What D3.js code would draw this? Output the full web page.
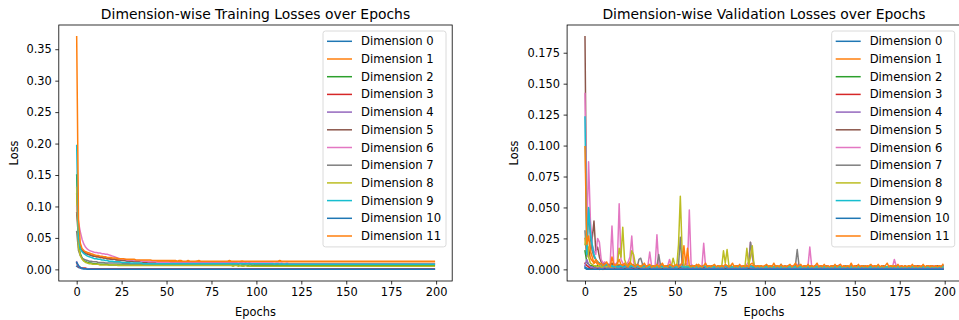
<!DOCTYPE html>
<html>
<head>
<meta charset="utf-8">
<script src="https://d3js.org/d3.v7.min.js"></script>
<style>
  body { margin: 0; background: #fff; }
  svg { display: block; font-family: "DejaVu Sans", sans-serif; }
</style>
</head>
<body>
<svg id="chart" width="959" height="320"></svg>
<script>
// loss values are written in thousandths (1 = 0.001)
const UNIT = 0.001;

const epochs = d3.range(0, 200);
const seriesNames = d3.range(12).map(i => `Dimension ${i}`);
const xTicks = [0, 25, 50, 75, 100, 125, 150, 175, 200];
const trainYTicks = [0, 0.05, 0.10, 0.15, 0.20, 0.25, 0.30, 0.35];
const valYTicks = [0, 0.025, 0.05, 0.075, 0.10, 0.125, 0.15, 0.175];

// ---- training losses ----
const trainDim0 = [
5,3,2,1,1,1,1,0,0,0,0,0,0,0,0,0,0,0,0,0,
0,0,0,0,0,0,0,0,0,0,0,0,0,0,0,0,0,0,0,0,
0,0,0,0,0,0,0,0,0,0,0,0,0,0,0,0,0,0,0,0,
0,0,0,0,0,0,0,0,0,0,0,0,0,0,0,0,0,0,0,0,
0,0,0,0,0,0,0,0,0,0,0,0,0,0,0,0,0,0,0,0,
0,0,0,0,0,0,0,0,0,0,0,0,0,0,0,0,0,0,0,0,
0,0,0,0,0,0,0,0,0,0,0,0,0,0,0,0,0,0,0,0,
0,0,0,0,0,0,0,0,0,0,0,0,0,0,0,0,0,0,0,0,
0,0,0,0,0,0,0,0,0,0,0,0,0,0,0,0,0,0,0,0,
0,0,0,0,0,0,0,0,0,0,0,0,0,0,0,0,0,0,0,0];
const trainDim1 = [
120,45,34,30,28,27,25,24,23,22,21,20,20,19,19,18,18,17,17,17,
16,16,16,15,15,15,15,14,14,14,14,14,14,13,13,13,13,13,13,13,
13,13,13,13,12,13,13,12,12,13,12,12,12,12,12,13,12,12,12,12,
12,12,12,12,12,12,12,13,12,12,12,12,12,12,12,12,12,12,12,12,
12,12,12,12,12,12,12,12,12,12,12,12,13,12,12,12,12,12,12,12,
12,12,12,12,12,12,12,12,12,12,12,12,12,12,12,12,12,12,12,12,
12,12,12,12,12,12,12,12,12,12,12,12,12,12,12,12,12,12,12,12,
12,12,12,12,12,12,12,12,12,12,12,12,12,12,12,12,12,12,12,12,
12,12,12,12,12,12,12,12,12,12,12,12,12,12,12,12,12,12,12,12,
12,12,12,12,12,12,12,12,12,12,12,12,12,12,12,12,12,12,12,12];
const trainDim2 = [
150,40,25,18,14,12,11,10,10,9,9,9,8,8,8,8,8,8,7,7,
7,7,7,7,7,7,7,7,7,7,7,7,7,7,7,7,7,7,7,7,
7,7,7,7,7,7,7,7,7,7,7,7,7,7,7,7,7,7,7,7,
7,7,7,7,7,7,7,7,7,7,7,7,7,7,7,7,7,7,7,7,
7,7,7,7,7,7,7,7,7,7,7,6,7,7,7,6,7,7,6,7,
6,6,6,6,6,6,6,6,6,6,6,6,6,6,6,6,6,6,6,6,
6,6,6,6,6,6,6,6,6,6,6,6,6,6,6,6,6,6,6,6,
6,6,6,6,6,6,6,6,6,6,6,6,6,6,6,6,6,6,6,6,
6,6,6,6,6,6,6,6,6,6,6,6,6,6,6,6,6,6,6,6,
6,6,6,6,6,6,6,6,6,6,6,6,6,6,6,6,6,6,6,6];
const trainDim3 = [
10,4,3,2,2,2,1,1,1,1,1,1,1,1,1,1,1,1,1,1,
1,1,1,1,1,1,1,1,1,1,1,1,1,1,1,1,1,1,1,1,
1,1,1,1,1,1,1,1,1,1,1,1,1,1,1,1,1,1,1,1,
1,1,1,1,1,1,1,1,1,1,1,1,1,1,1,1,1,1,1,1,
1,1,1,1,1,1,1,1,1,1,1,1,1,1,1,1,1,1,1,1,
1,1,1,1,1,1,1,1,1,1,1,1,1,1,1,1,1,1,1,1,
1,1,1,1,1,1,1,1,1,1,1,1,1,1,1,1,1,1,1,1,
1,1,1,1,1,1,1,1,1,1,1,1,1,1,1,1,1,1,1,1,
1,1,1,1,1,1,1,1,1,1,1,1,1,1,1,1,1,1,1,1,
1,1,1,1,1,1,1,1,1,1,1,1,1,1,1,1,1,1,1,1];
const trainDim4 = [
12,5,3,2,1,1,1,1,0,0,0,0,0,0,0,0,0,0,0,0,
0,0,0,0,0,0,0,0,0,0,0,0,0,0,0,0,0,0,0,0,
0,0,0,0,0,0,0,0,0,0,0,0,0,0,0,0,0,0,0,0,
0,0,0,0,0,0,0,0,0,0,0,0,0,0,0,0,0,0,0,0,
0,0,0,0,0,0,0,0,0,0,0,0,0,0,0,0,0,0,0,0,
0,0,0,0,0,0,0,0,0,0,0,0,0,0,0,0,0,0,0,0,
0,0,0,0,0,0,0,0,0,0,0,0,0,0,0,0,0,0,0,0,
0,0,0,0,0,0,0,0,0,0,0,0,0,0,0,0,0,0,0,0,
0,0,0,0,0,0,0,0,0,0,0,0,0,0,0,0,0,0,0,0,
0,0,0,0,0,0,0,0,0,0,0,0,0,0,0,0,0,0,0,0];
const trainDim5 = [
90,50,35,30,27,25,24,23,22,21,21,20,20,19,19,18,18,17,17,16,
16,16,15,15,15,14,14,14,13,13,13,13,12,12,12,12,12,11,11,11,
11,11,11,11,11,10,10,10,10,10,10,10,10,10,10,10,10,10,10,10,
10,10,10,10,10,10,10,10,10,10,10,10,10,10,10,10,10,10,10,10,
10,10,10,10,10,10,10,10,10,10,9,10,10,9,10,9,10,9,9,9,
9,9,9,9,9,9,9,9,9,9,9,9,9,9,9,9,9,9,9,9,
9,9,9,9,9,9,9,9,9,9,9,9,9,9,9,9,9,9,9,9,
9,9,9,9,9,9,9,9,9,9,9,9,9,9,9,9,9,9,9,9,
9,9,9,9,9,9,9,9,9,9,9,9,9,9,9,9,9,9,9,9,
9,9,9,9,9,9,9,9,9,9,9,9,9,9,9,9,9,9,9,9];
const trainDim6 = [
100,75,60,48,40,35,32,30,29,28,27,27,26,26,25,25,24,24,23,22,
21,20,19,18,17,17,16,16,15,15,15,15,14,14,14,14,13,13,13,13,
12,12,12,12,12,11,11,11,11,11,11,11,10,10,10,10,10,10,10,10,
10,10,10,10,10,10,10,10,10,10,10,10,10,10,10,10,10,10,10,10,
10,10,10,10,10,10,10,10,10,10,10,10,10,10,10,10,10,10,10,10,
10,10,10,10,10,10,10,10,10,10,9,10,10,9,10,9,9,10,9,9,
9,9,9,9,9,9,9,9,9,9,9,9,9,9,9,9,9,9,9,9,
9,9,9,9,9,9,9,9,9,9,9,9,9,9,9,9,9,9,9,9,
9,9,9,9,9,9,9,9,9,9,9,9,9,9,9,9,9,9,9,9,
9,9,9,9,9,9,9,9,9,9,9,9,9,9,9,9,9,9,9,9];
const trainDim7 = [
60,30,22,18,16,15,14,13,13,12,12,12,11,11,11,11,10,10,10,10,
10,10,10,10,10,10,9,9,9,9,9,9,9,9,9,9,9,9,9,9,
9,9,9,9,9,9,9,9,9,9,9,9,9,9,9,9,9,9,9,9,
9,9,9,9,9,9,9,9,9,9,9,9,9,9,9,9,9,9,9,9,
9,9,9,9,9,9,9,9,9,9,9,9,9,9,9,9,9,9,9,9,
8,8,8,8,8,8,8,8,8,8,8,8,8,8,8,8,8,8,8,8,
8,8,8,8,8,8,8,8,8,8,8,8,8,8,8,8,8,8,8,8,
8,8,8,8,8,8,8,8,8,8,8,8,8,8,8,8,8,8,8,8,
8,8,8,8,8,8,8,8,8,8,8,8,8,8,8,8,8,8,8,8,
8,8,8,8,8,8,8,8,8,8,8,8,8,8,8,8,8,8,8,8];
const trainDim8 = [
130,35,22,16,13,11,10,9,9,8,8,8,8,7,7,7,7,7,7,7,
7,7,7,6,6,6,6,6,6,6,6,6,6,6,6,6,6,6,6,6,
6,6,6,6,6,6,6,6,6,6,6,6,6,6,6,6,6,6,6,6,
6,6,6,6,6,6,6,6,6,6,6,6,6,6,6,6,6,6,6,6,
6,6,6,6,6,6,6,5,6,6,5,6,5,5,6,5,5,5,5,5,
5,5,5,5,5,5,5,5,5,5,5,5,5,5,5,5,5,5,5,5,
5,5,5,5,5,5,5,5,5,5,5,5,5,5,5,5,5,5,5,5,
5,5,5,5,5,5,5,5,5,5,5,5,5,5,5,5,5,5,5,5,
5,5,5,5,5,5,5,5,5,5,5,5,5,5,5,5,5,5,5,5,
5,5,5,5,5,5,5,5,5,5,5,5,5,5,5,5,5,5,5,5];
const trainDim9 = [
197,50,33,28,25,23,21,20,19,18,17,17,16,16,15,15,14,14,13,13,
13,12,12,12,12,11,11,11,11,11,10,10,10,10,10,10,10,9,9,9,
9,9,9,9,9,9,9,9,9,9,9,9,9,9,9,9,9,9,9,9,
9,9,9,9,9,9,9,9,9,9,9,9,9,9,9,9,9,9,9,9,
9,9,9,9,9,9,9,9,9,9,9,9,9,9,9,9,9,9,9,9,
9,9,9,9,9,9,9,9,9,9,8,9,9,8,9,8,8,9,8,8,
8,8,8,8,8,8,8,8,8,8,8,8,8,8,8,8,8,8,8,8,
8,8,8,8,8,8,8,8,8,8,8,8,8,8,8,8,8,8,8,8,
8,8,8,8,8,8,8,8,8,8,8,8,8,8,8,8,8,8,8,8,
8,8,8,8,8,8,8,8,8,8,8,8,8,8,8,8,8,8,8,8];
const trainDim10 = [
11,6,3,2,1,1,0,0,0,0,0,0,0,0,0,0,0,0,0,0,
0,0,0,0,0,0,0,0,0,0,0,0,0,0,0,0,0,0,0,0,
0,0,0,0,0,0,0,0,0,0,0,0,0,0,0,0,0,0,0,0,
0,0,0,0,0,0,0,0,0,0,0,0,0,0,0,0,0,0,0,0,
0,0,0,0,0,0,0,0,0,0,0,0,0,0,0,0,0,0,0,0,
0,0,0,0,0,0,0,0,0,0,0,0,0,0,0,0,0,0,0,0,
0,0,0,0,0,0,0,0,0,0,0,0,0,0,0,0,0,0,0,0,
0,0,0,0,0,0,0,0,0,0,0,0,0,0,0,0,0,0,0,0,
0,0,0,0,0,0,0,0,0,0,0,0,0,0,0,0,0,0,0,0,
0,0,0,0,0,0,0,0,0,0,0,0,0,0,0,0,0,0,0,0];
const trainDim11 = [
370,80,42,33,30,28,27,26,25,24,23,22,22,21,21,20,20,19,19,19,
18,18,18,17,17,17,17,16,16,16,16,16,16,15,15,15,15,15,15,15,
15,15,14,14,14,14,14,14,14,14,14,14,14,14,14,14,13,14,14,13,
13,13,14,13,13,13,13,13,14,13,13,13,13,13,13,13,13,13,13,13,
13,13,13,13,13,14,13,13,13,13,13,13,13,13,13,13,13,13,13,13,
13,13,13,13,13,13,13,13,13,13,13,13,13,14,13,13,13,13,13,13,
13,13,13,13,13,13,13,13,13,13,13,13,13,13,13,13,13,13,13,13,
13,13,13,13,13,13,13,13,13,13,13,13,13,13,13,13,13,13,13,13,
13,13,13,13,13,13,13,13,13,13,13,13,13,13,13,13,13,13,13,13,
13,13,13,13,13,13,13,13,13,13,13,13,13,13,13,13,13,13,13,13];

// ---- validation losses ----
const valDim0 = [
2,1,1,0,0,0,0,0,0,0,0,0,0,0,0,0,0,0,0,0,
0,0,0,0,0,0,0,0,0,0,0,0,0,0,0,0,0,0,0,0,
0,0,0,0,0,0,0,0,0,0,0,0,0,0,0,0,0,0,0,0,
0,0,0,0,0,0,0,0,0,0,0,0,0,0,0,0,0,0,0,0,
0,0,0,0,0,0,0,0,0,0,0,0,0,0,0,0,0,0,0,0,
0,0,0,0,0,0,0,0,0,0,0,0,0,0,0,0,0,0,0,0,
0,0,0,0,0,0,0,0,0,0,0,0,0,0,0,0,0,0,0,0,
0,0,0,0,0,0,0,0,0,0,0,0,0,0,0,0,0,0,0,0,
0,0,0,0,0,0,0,0,0,0,0,0,0,0,0,0,0,0,0,0,
0,0,0,0,0,0,0,0,0,0,0,0,0,0,0,0,0,0,0,0];
const valDim1 = [
25,12,18,9,7,5,6,4,5,3,4,5,3,3,4,5,3,2,4,4,
3,4,2,3,5,3,2,4,3,2,3,2,4,3,2,3,3,2,3,2,
3,2,4,3,2,3,3,2,4,2,3,2,3,4,3,3,2,3,2,3,
2,3,2,4,3,2,2,3,3,2,3,2,3,2,2,3,3,2,3,3,
2,3,2,2,3,3,2,3,2,2,3,2,2,3,2,3,2,2,3,2,
2,2,3,2,3,2,2,3,2,3,2,2,3,2,2,3,2,3,2,2,
3,2,2,3,2,2,3,2,3,2,2,3,2,2,3,2,2,3,2,2,
2,3,2,2,3,2,2,2,3,2,3,2,2,3,2,2,2,3,2,2,
3,2,2,3,2,2,3,2,2,2,3,2,2,3,2,2,3,2,2,2,
2,3,2,2,2,3,2,2,3,2,2,2,3,2,2,3,2,2,2,3];
const valDim2 = [
15,6,4,3,3,2,2,3,2,2,2,3,2,2,2,2,3,2,2,2,
2,2,1,2,2,1,2,2,1,2,2,1,2,1,2,2,1,2,1,2,
1,2,2,1,2,1,2,2,1,2,1,2,1,2,2,1,2,1,2,1,
2,1,2,1,1,2,1,2,1,2,1,1,2,1,2,1,1,2,1,1,
1,2,1,1,2,1,1,2,1,1,2,1,1,1,2,1,1,2,1,1,
1,1,2,1,1,1,2,1,1,1,2,1,1,1,1,2,1,1,1,2,
1,1,1,2,1,1,1,1,2,1,1,1,1,2,1,1,1,1,1,2,
1,1,1,1,2,1,1,1,1,1,2,1,1,1,1,1,1,2,1,1,
1,1,1,1,1,2,1,1,1,1,1,1,2,1,1,1,1,1,1,1,
2,1,1,1,1,1,1,2,1,1,1,1,1,1,2,1,1,1,1,1];
const valDim3 = [
5,3,2,1,1,1,1,1,0,1,0,1,0,0,1,0,0,1,0,0,
1,0,0,1,0,0,0,1,0,0,1,0,0,0,1,0,0,0,1,0,
0,1,0,0,0,1,0,0,0,0,1,0,0,0,1,0,0,0,0,1,
0,0,0,1,0,0,0,0,1,0,0,0,0,0,1,0,0,0,0,1,
0,0,0,0,1,0,0,0,0,0,1,0,0,0,0,0,1,0,0,0,
0,1,0,0,0,0,0,1,0,0,0,0,0,1,0,0,0,0,0,0,
1,0,0,0,0,0,1,0,0,0,0,0,0,1,0,0,0,0,0,0,
1,0,0,0,0,0,0,1,0,0,0,0,0,0,1,0,0,0,0,0,
0,1,0,0,0,0,0,0,1,0,0,0,0,0,0,1,0,0,0,0,
0,0,1,0,0,0,0,0,0,1,0,0,0,0,0,0,1,0,0,0];
const valDim4 = [
3,8,4,2,2,1,1,2,1,1,1,2,1,1,1,1,2,1,1,1,
1,1,2,1,1,1,1,2,1,1,3,1,1,1,1,1,2,1,1,1,
1,1,1,2,1,1,1,1,1,1,1,1,2,1,1,1,1,1,1,1,
1,1,1,1,1,2,1,1,1,1,1,1,1,1,1,1,1,1,2,1,
1,1,1,1,1,1,1,1,1,1,1,2,1,1,1,1,1,1,1,1,
1,1,1,1,1,1,1,1,1,1,1,1,1,1,1,1,1,1,1,1,
1,1,1,1,1,1,1,1,1,1,1,1,1,1,1,1,1,1,1,1,
1,1,1,1,1,1,1,1,1,1,1,1,1,1,1,1,1,1,1,1,
1,1,1,1,1,1,1,1,1,1,1,1,1,1,1,1,1,1,1,1,
1,1,1,1,1,1,1,1,1,1,1,1,1,1,1,1,1,1,1,1];
const valDim5 = [
188,20,10,15,25,39,15,18,10,6,5,4,3,4,3,5,3,4,3,3,
3,2,4,3,2,3,2,3,2,3,3,2,2,3,2,2,3,2,2,3,
2,3,2,2,3,2,2,2,3,2,2,3,2,2,2,3,2,2,2,2,
3,2,2,2,2,3,2,2,2,2,2,3,2,2,2,2,2,2,3,2,
2,2,2,2,3,2,2,2,2,2,2,2,3,2,2,2,2,2,2,2,
2,3,2,2,2,2,2,2,2,3,2,2,2,2,2,2,2,2,2,3,
2,2,2,2,2,2,2,2,3,2,2,2,2,2,2,2,2,2,2,2,
3,2,2,2,2,2,2,2,2,2,2,3,2,2,2,2,2,2,2,2,
2,2,2,3,2,2,2,2,2,2,2,2,2,2,3,2,2,2,2,2,
2,2,2,2,2,3,2,2,2,2,2,2,2,2,2,2,3,2,2,2];
const valDim6 = [
142,30,87,40,20,15,12,25,22,8,5,6,4,3,5,35,5,4,6,53,
8,5,3,4,6,10,27,6,3,4,3,2,3,4,2,3,14,3,2,3,
28,4,3,2,3,2,3,8,3,2,3,2,3,4,2,3,5,3,48,4,
3,2,3,2,3,2,21,3,2,3,2,2,3,2,2,3,2,3,2,3,
2,3,2,2,3,2,2,3,2,3,4,6,22,10,3,2,3,2,2,2,
3,2,2,3,2,2,3,2,2,3,2,2,3,2,2,3,2,2,4,3,
2,2,3,2,3,18,3,2,2,3,2,2,3,2,2,3,2,2,3,2,
2,3,4,2,2,2,3,2,2,3,2,2,2,3,2,2,3,2,2,2,
3,2,2,3,2,2,3,2,2,2,3,2,8,3,2,2,3,2,2,2,
2,3,2,2,3,2,2,3,2,2,2,3,2,2,3,2,2,2,3,2];
const valDim7 = [
31,10,49,25,15,10,8,6,5,4,4,3,3,4,3,2,3,3,2,3,
3,2,3,2,3,5,4,3,3,2,8,9,4,2,3,2,3,2,3,2,
3,12,3,2,3,2,3,2,3,2,3,2,3,26,4,3,2,3,2,3,
2,3,2,3,2,2,3,2,3,2,2,3,2,2,3,2,3,2,2,3,
2,3,2,2,3,2,3,2,2,3,2,3,22,12,3,2,2,3,2,2,
3,2,2,3,2,2,3,2,2,4,2,3,2,2,3,2,2,3,16,3,
2,2,3,2,2,3,2,2,3,2,2,3,2,2,3,2,2,2,3,2,
2,3,2,2,2,3,2,2,3,2,2,2,3,2,2,3,2,2,2,3,
2,2,3,2,2,2,3,2,2,2,3,2,2,3,2,2,2,2,3,2,
2,2,2,3,2,2,2,2,3,2,2,2,2,3,2,2,2,2,2,3];
const valDim8 = [
20,30,10,5,4,3,3,2,3,2,2,3,2,3,2,2,3,2,4,17,
10,34,8,4,3,3,15,12,4,3,2,3,2,2,3,2,3,2,2,3,
2,3,2,2,3,2,2,3,2,9,3,2,20,59,15,3,2,3,2,2,
3,2,2,3,2,2,3,2,2,3,2,2,3,2,2,3,2,15,5,16,
3,2,2,3,2,2,3,2,2,3,17,3,10,19,3,2,2,3,2,2,
2,2,3,2,2,2,2,3,2,2,2,2,2,3,2,2,2,2,3,2,
2,2,2,2,3,2,2,2,2,2,2,3,2,2,2,2,2,2,2,3,
2,2,2,2,2,2,3,2,2,2,2,2,2,2,3,2,2,2,2,2,
2,2,3,2,2,2,2,2,2,2,2,3,2,2,2,2,2,2,2,2,
3,2,2,2,2,2,2,2,3,2,2,2,2,2,2,2,2,3,2,2];
const valDim9 = [
123,12,50,30,20,12,8,6,5,4,3,3,4,3,2,3,2,3,2,2,
3,2,2,3,2,2,3,2,2,3,2,2,2,3,2,2,2,3,2,2,
2,2,3,2,2,2,2,3,2,2,2,2,2,3,2,2,2,2,2,2,
2,2,2,2,2,2,3,2,2,2,2,2,2,2,2,2,2,2,3,2,
2,2,2,2,2,2,2,2,2,2,2,2,3,2,2,2,2,2,2,2,
2,2,2,2,2,2,2,2,2,2,2,2,2,2,2,2,2,2,2,2,
2,2,2,2,2,2,2,2,2,2,2,2,2,2,2,2,2,2,2,2,
2,2,2,2,2,2,2,2,2,2,2,2,2,2,2,2,2,2,2,2,
2,2,2,2,2,2,2,2,2,2,2,2,2,2,2,2,2,2,2,2,
2,2,2,2,2,2,2,2,2,2,2,2,2,2,2,2,2,2,2,2];
const valDim10 = [
1,0,0,0,0,0,0,0,0,0,0,0,0,0,0,0,0,0,0,0,
0,0,0,0,0,0,0,0,0,0,0,0,0,0,0,0,0,0,0,0,
0,0,0,0,0,0,0,0,0,0,0,0,0,0,0,0,0,0,0,0,
0,0,0,0,0,0,0,0,0,0,0,0,0,0,0,0,0,0,0,0,
0,0,0,0,0,0,0,0,0,0,0,0,0,0,0,0,0,0,0,0,
0,0,0,0,0,0,0,0,0,0,0,0,0,0,0,0,0,0,0,0,
0,0,0,0,0,0,0,0,0,0,0,0,0,0,0,0,0,0,0,0,
0,0,0,0,0,0,0,0,0,0,0,0,0,0,0,0,0,0,0,0,
0,0,0,0,0,0,0,0,0,0,0,0,0,0,0,0,0,0,0,0,
0,0,0,0,0,0,0,0,0,0,0,0,0,0,0,0,0,0,0,0];
const valDim11 = [
99,20,27,15,10,5,8,6,4,5,3,4,6,3,2,10,4,3,5,8,
4,3,5,3,2,6,4,3,2,4,3,2,3,5,2,3,4,2,3,2,
4,2,3,5,2,3,2,4,3,2,3,4,2,3,5,19,4,17,3,2,
3,2,4,2,3,2,3,5,2,3,2,3,4,2,3,2,3,2,4,3,
2,3,5,2,3,2,4,2,3,2,3,2,4,5,3,2,3,2,3,2,
3,4,2,3,2,5,2,3,2,4,2,3,2,3,4,2,3,5,2,3,
4,2,3,2,4,2,3,2,3,5,2,3,2,4,2,3,2,3,2,4,
2,3,4,2,3,2,3,2,5,2,3,2,4,2,3,2,3,2,3,4,
2,3,2,4,2,3,2,3,5,2,3,2,3,2,4,2,3,2,3,2,
3,2,4,2,3,2,3,2,4,2,3,3,2,3,2,3,2,3,2,4];

const trainSeries = [trainDim0, trainDim1, trainDim2, trainDim3, trainDim4, trainDim5,
  trainDim6, trainDim7, trainDim8, trainDim9, trainDim10, trainDim11];
const valSeries = [valDim0, valDim1, valDim2, valDim3, valDim4, valDim5,
  valDim6, valDim7, valDim8, valDim9, valDim10, valDim11];

const colors = ["#1f77b4", "#ff7f0e", "#2ca02c", "#d62728", "#9467bd", "#8c564b",
  "#e377c2", "#7f7f7f", "#bcbd22", "#17becf", "#1f77b4", "#ff7f0e"];

const svg = d3.select("#chart");

function drawPanel(cfg) {
  const { left, right, top, bottom, series, yTicks, yFmt, title, id } = cfg;
  const all = series.flat().map(v => v * UNIT);
  const yMin = d3.min(all), yMax = d3.max(all);
  const yPad = (yMax - yMin) * 0.05;
  const xPad = (epochs[epochs.length - 1] - epochs[0]) * 0.05;

  const x = d3.scaleLinear()
    .domain([epochs[0] - xPad, epochs[epochs.length - 1] + xPad])
    .range([left, right]);
  const y = d3.scaleLinear()
    .domain([yMin - yPad, yMax + yPad])
    .range([bottom, top]);

  const g = svg.append("g");

  g.append("clipPath").attr("id", id)
    .append("rect")
    .attr("x", left).attr("y", top)
    .attr("width", right - left).attr("height", bottom - top);

  const line = d3.line()
    .x((d, i) => x(epochs[i]))
    .y(d => y(d * UNIT));

  const lines = g.append("g").attr("clip-path", `url(#${id})`);
  series.forEach((s, i) => {
    lines.append("path")
      .attr("d", line(s))
      .attr("fill", "none")
      .attr("stroke", colors[i])
      .attr("stroke-width", 1.5)
      .attr("stroke-linejoin", "round")
      .attr("stroke-linecap", "square");
  });

  // axes
  const xAxis = d3.axisBottom(x).tickValues(xTicks).tickSize(3.5).tickPadding(3.5).tickSizeOuter(0);
  const yAxis = d3.axisLeft(y).tickValues(yTicks).tickFormat(yFmt).tickSize(3.5).tickPadding(3.5).tickSizeOuter(0);

  const gx = g.append("g").attr("transform", `translate(0,${bottom})`).call(xAxis);
  const gy = g.append("g").attr("transform", `translate(${left},0)`).call(yAxis);
  [gx, gy].forEach(a => {
    a.select(".domain").remove();
    a.selectAll(".tick line").attr("stroke", "#000").attr("stroke-width", 0.8);
    a.selectAll(".tick text").attr("fill", "#000")
      .style("font-family", "DejaVu Sans").style("font-size", "11.4px");
  });

  // frame
  g.append("rect")
    .attr("x", left).attr("y", top)
    .attr("width", right - left).attr("height", bottom - top)
    .attr("fill", "none").attr("stroke", "#000").attr("stroke-width", 0.8);

  g.append("text")
    .attr("x", (left + right) / 2).attr("y", top - 6)
    .attr("text-anchor", "middle")
    .style("font-size", "13.9px")
    .text(title);

  g.append("text")
    .attr("x", (left + right) / 2).attr("y", bottom + 35)
    .attr("text-anchor", "middle")
    .style("font-size", "11.4px")
    .text("Epochs");

  g.append("text")
    .attr("transform", `translate(${cfg.yLabelX},${(top + bottom) / 2}) rotate(-90)`)
    .attr("text-anchor", "middle")
    .style("font-size", "11.4px")
    .text("Loss");

  // legend
  const lx = cfg.legendX, ly = top + 6, lw = 123, rowH = 17.7;
  const leg = g.append("g");
  leg.append("rect")
    .attr("x", lx).attr("y", ly)
    .attr("width", lw).attr("height", rowH * 12 + 3.5)
    .attr("rx", 2.5)
    .attr("fill", "#fff").attr("fill-opacity", 0.8)
    .attr("stroke", "#d0d0d0").attr("stroke-width", 0.8);
  seriesNames.forEach((name, i) => {
    const cy = ly + 10.3 + i * rowH;
    leg.append("line")
      .attr("x1", lx + 4).attr("x2", lx + 29)
      .attr("y1", cy).attr("y2", cy)
      .attr("stroke", colors[i]).attr("stroke-width", 1.5);
    leg.append("text")
      .attr("x", lx + 38).attr("y", cy)
      .attr("dy", "0.35em")
      .style("font-size", "11.6px")
      .text(name);
  });
}

drawPanel({
  id: "clipTrain", left: 58.8, right: 452.2, top: 25, bottom: 281,
  series: trainSeries, yTicks: trainYTicks, yFmt: d3.format(".2f"),
  title: "Dimension-wise Training Losses over Epochs",
  yLabelX: 17.5, legendX: 323
});

drawPanel({
  id: "clipVal", left: 567.1, right: 960.8, top: 25, bottom: 281,
  series: valSeries, yTicks: valYTicks, yFmt: d3.format(".3f"),
  title: "Dimension-wise Validation Losses over Epochs",
  yLabelX: 518, legendX: 831.7
});
</script>
</body>
</html>
